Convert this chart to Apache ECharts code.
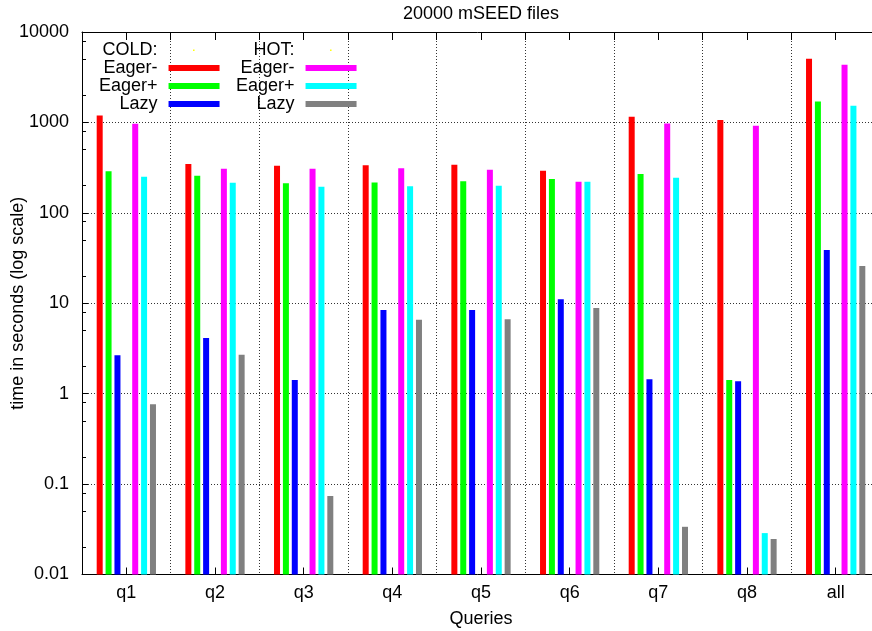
<!DOCTYPE html>
<html><head><meta charset="utf-8">
<script src="https://cdn.jsdelivr.net/npm/echarts@6/dist/echarts.min.js"></script>
<style>html,body{margin:0;padding:0;background:#fff}#c{width:872px;height:631px}</style>
</head><body><div id="c"></div>
<script>
const categories = ['q1','q2','q3','q4','q5','q6','q7','q8','all'];
const coldEagerMinus = [1190, 346, 331, 337, 340, 292, 1155, 1062, 5060];
const coldEagerPlus  = [289, 257, 213, 217, 224, 236, 268, 1.42, 1706];
const coldLazy       = [2.66, 4.14, 1.42, 8.44, 8.44, 11.1, 1.44, 1.37, 38.9];
const hotEagerMinus  = [966, 307, 307, 312, 299, 220, 973, 918, 4345];
const hotEagerPlus   = [250, 215, 194, 197, 199, 220, 244, 0.0287, 1528];
const hotLazy        = [0.764, 2.70, 0.0738, 6.55, 6.66, 8.87, 0.0337, 0.0247, 25.9];
const yTickLabels = ['0.01','0.1','1','10','100','1000','10000'];
const minorTickFactors = [2, 5, 8];
const titleText = '20000 mSEED files';
const xName = 'Queries';
const yName = 'time in seconds (log scale)';

const FONT = '"Liberation Sans", Arial, Helvetica, sans-serif';
const FS = 18;
const minorVals = [];
for (let d = -2; d < 4; d++) for (const f of minorTickFactors) minorVals.push(d + Math.log10(f));
const topCats = [];
for (let i = 0; i < categories.length * 2; i++) topCats.push('');
const dotted = {color: '#333', width: 1, type: [1, 2]};
const dotIcon = 'path://M0,0M100,12M48,5h3v3h-3z';

function bar(name, data, color) {
  return {name, type: 'bar', data, barWidth: 6, barGap: '48%', xAxisIndex: 0, yAxisIndex: 0,
          itemStyle: {color}, animation: false, silent: true};
}
const fmt = n => n.replace(/^(COLD|HOT) /, '');
const legendBase = {
  orient: 'vertical', top: 41, padding: 0, itemGap: 0, itemWidth: 51, itemHeight: 6,
  align: 'right', icon: 'rect', selectedMode: false, formatter: fmt,
  textStyle: {fontSize: FS, fontFamily: FONT, color: '#000', padding: [0, 6, 0, 0], lineHeight: 17.8}
};

const chart = echarts.init(document.getElementById('c'), null, {renderer: 'canvas'});
chart.setOption({
  animation: false,
  backgroundColor: '#fff',
  title: {text: titleText, left: 481, top: 5, padding: 0, textAlign: 'center',
          textStyle: {fontSize: FS, fontWeight: 'normal', fontFamily: FONT, color: '#000'}},
  grid: {left: 82, top: 32, width: 798, height: 542.5, containLabel: false, outerBoundsMode: 'none'},
  legend: [
    Object.assign({}, legendBase, {left: 99, data: [
      {name: 'COLD:', icon: dotIcon, itemStyle: {color: '#ffff00'}}, 'COLD Eager-', 'COLD Eager+', 'COLD Lazy']}),
    Object.assign({}, legendBase, {left: 236, data: [
      {name: 'HOT:', icon: dotIcon, itemStyle: {color: '#ffff00'}}, 'HOT Eager-', 'HOT Eager+', 'HOT Lazy']})
  ],
  xAxis: [
    {type: 'category', data: categories, position: 'bottom', boundaryGap: true,
     name: xName, nameLocation: 'middle', nameGap: 36, nameMoveOverlap: false,
     nameTextStyle: {fontSize: FS, fontFamily: FONT, color: '#000'},
     axisLine: {show: true, onZero: false, lineStyle: {color: '#000', width: 1}},
     axisTick: {show: true, inside: true, alignWithLabel: true, length: 7, lineStyle: {color: '#000'}},
     axisLabel: {fontSize: FS, fontFamily: FONT, color: '#000', margin: 10},
     splitLine: {show: true, interval: 0, lineStyle: dotted}},
    {type: 'category', data: topCats, position: 'top', boundaryGap: true,
     axisLine: {show: true, onZero: false, lineStyle: {color: '#000', width: 1}},
     axisTick: {show: true, inside: true, length: 8, interval: 0, lineStyle: {color: '#000'}},
     axisLabel: {show: false}, splitLine: {show: false}}
  ],
  yAxis: [
    {type: 'log', logBase: 10, min: 0.01, max: 10000, startValue: 0.01, position: 'left',
     name: yName, nameLocation: 'middle', nameGap: 55, nameRotate: 90, nameMoveOverlap: false,
     nameTextStyle: {fontSize: FS, fontFamily: FONT, color: '#000'},
     axisLine: {show: true, onZero: false, lineStyle: {color: '#000', width: 1}},
     axisTick: {show: true, inside: true, length: 6, lineStyle: {color: '#000'}},
     axisLabel: {fontSize: FS, fontFamily: FONT, color: '#000', margin: 13,
       formatter: v => yTickLabels[Math.round(Math.log10(v)) + 2]},
     splitLine: {show: true, lineStyle: dotted}},
    {type: 'value', min: -2, max: 4, position: 'left',
     axisLine: {show: false, onZero: false},
     axisTick: {show: true, inside: true, length: 4, customValues: minorVals, lineStyle: {color: '#000'}},
     axisLabel: {show: false}, splitLine: {show: false}}
  ],
  series: [
    bar('COLD Eager-', coldEagerMinus, '#ff0000'),
    bar('COLD Eager+', coldEagerPlus, '#00ff00'),
    bar('COLD Lazy', coldLazy, '#0000ff'),
    bar('COLD:', categories.map(() => null), '#ffff00'),
    bar('HOT Eager-', hotEagerMinus, '#ff00ff'),
    bar('HOT Eager+', hotEagerPlus, '#00ffff'),
    bar('HOT Lazy', hotLazy, '#808080'),
    {name: 'HOT:', type: 'line', data: [], xAxisIndex: 0, yAxisIndex: 0, itemStyle: {color: '#ffff00'}}
  ]
});
</script></body></html>
